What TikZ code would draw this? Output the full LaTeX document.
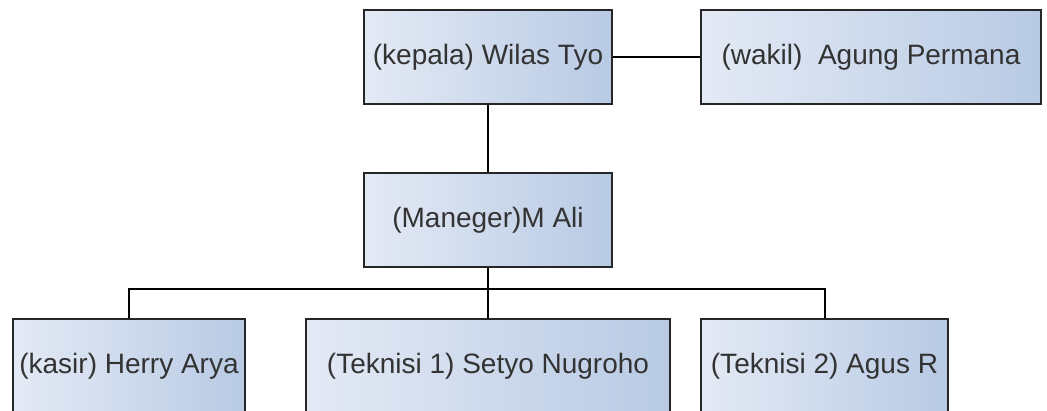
\documentclass[tikz,border=0pt]{standalone}
\usepackage{fontspec}
\setmainfont{Liberation Sans}
\begin{document}
\begin{tikzpicture}[x=0.5pt,y=-0.5pt,
  person/.style={draw=black!85, line width=1pt, rectangle,
    left color=boxleft, right color=boxright,
    minimum height=47pt, inner sep=0pt, text=black!80,
    font=\fontsize{14}{16}\selectfont},
  link/.style={draw=black, line width=1pt}]
\definecolor{boxleft}{RGB}{228,234,245}
\definecolor{boxright}{RGB}{184,202,228}
\useasboundingbox (0,0) rectangle (1047,411);
\clip (0,0) rectangle (1047,411);
% top row
\node[person, minimum width=124pt] (kepala) at (488,57) {(kepala) Wilas Tyo};
\node[person, minimum width=170pt] (wakil) at (871,57) {(wakil)\ \ Agung Permana};
% manager
\node[person, minimum width=124pt] (mgr) at (488,220) {(Maneger)M Ali};
% staff row
\node[person, minimum width=116pt] (kasir) at (129,366) {(kasir) Herry Arya};
\node[person, minimum width=182pt] (tek1) at (488,366) {(Teknisi 1) Setyo Nugroho};
\node[person, minimum width=123.5pt] (tek2) at (824.5,366) {(Teknisi 2) Agus R};
% connectors
\draw[link] (kepala.east) -- (wakil.west);
\draw[link] (kepala.south) -- (mgr.north);
\draw[link] (mgr.south) -- (tek1.north);
\coordinate (bus) at (488,289);
\draw[link] (bus) -| (kasir.north);
\draw[link] (bus) -| (tek2.north);
\end{tikzpicture}
\end{document}
